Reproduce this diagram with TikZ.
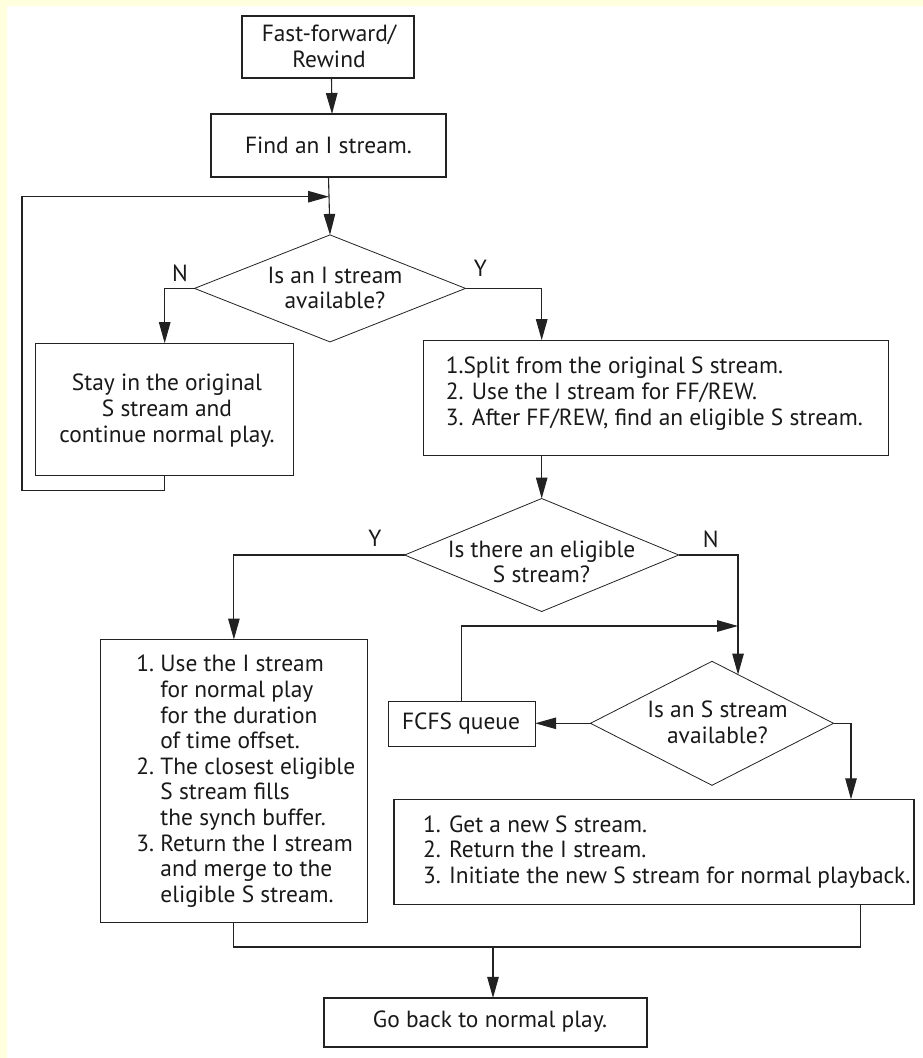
\documentclass[tikz,border=0pt]{standalone}
\usepackage{fontspec}
\setmainfont{PT Sans}
\usetikzlibrary{arrows.meta,shapes.geometric,calc}
\definecolor{paper}{RGB}{255,255,221}
\definecolor{ink}{RGB}{34,34,34}
\begin{document}
\begin{tikzpicture}[x=1pt,y=-1pt,
  every node/.style={font=\fontsize{23.4}{25.6}\selectfont, text=black!90,
    inner sep=0pt, outer sep=0pt},
  flowbox/.style={draw=ink, line width=1.2pt, rectangle},
  decide/.style={draw=ink, line width=0.8pt, diamond},
  ctext/.style={align=center},
  ltext/.style={align=left, anchor=west},
  conn/.style={draw=ink, line width=1.1pt},
  arr/.style={conn, -{Triangle[length=21pt,width=11.5pt]}},
]
% page and frame
\useasboundingbox (0,0) rectangle (923,1058);
\fill[paper] (0,0) rectangle (923,1058);
\fill[white] (7,6) rectangle (923,1058);

% process boxes
\node[flowbox, minimum width=172pt, minimum height=62pt] (b1) at (328,47) {};
\node[flowbox, minimum width=235pt, minimum height=63pt] (b2) at (328.5,145.5) {};
\node[flowbox, minimum width=258pt, minimum height=132pt] (stay) at (164.7,409.2) {};
\node[flowbox, minimum width=465pt, minimum height=115pt] (b3) at (656.3,397.7) {};
\node[flowbox, minimum width=267pt, minimum height=283pt] (b4) at (233.9,781) {};
\node[flowbox, minimum width=147pt, minimum height=45pt] (fcfs) at (461.7,724.1) {};
\node[flowbox, minimum width=520pt, minimum height=105pt] (b5) at (654,851.8) {};
\node[flowbox, minimum width=323pt, minimum height=49pt] (fin) at (485.5,1022.4) {};

% decisions
\node[decide, minimum width=271pt, minimum height=107pt] (d1) at (330,288.4) {};
\node[decide, minimum width=274pt, minimum height=113pt] (d2) at (541.7,555) {};
\node[decide, minimum width=243pt, minimum height=124pt] (d3) at (712,723.3) {};

% texts
\node[ctext] (b1t) at (329,46.3) {Fast-forward/\\Rewind};
\node[ctext] (b2t) at (328.5,145) {Find an I stream.};
\node[ctext] (d1t) at (335,288) {Is an I stream\\available?};
\node[ctext] (stayt) at (167,410.5) {Stay in the original\\S stream and\\continue normal play.};
\node[ltext] (b3t) at (445.8,393.7) {1.Split from the original S stream.\\2. Use the I stream for FF/REW.\\3. After FF/REW, find an eligible S stream.};
\node[ctext] (d2t) at (541.5,562) {Is there an eligible\\S stream?};
\node[ltext] (b4t) at (136.4,782) {\begin{tabular}{@{}l@{\ }l@{}}
1. & Use the I stream\\
   & for normal play\\
   & for the duration\\
   & of time offset.\\
2. & The closest eligible\\
   & S stream fills\\
   & the synch buffer.\\
3. & Return the I stream\\
   & and merge to the\\
   & eligible S stream.
\end{tabular}};
\node[ctext] (fcfst) at (461,723) {FCFS queue};
\node[ctext] (d3t) at (717.5,722) {Is an S stream\\available?};
\node[ltext] (b5t) at (423,852) {1. Get a new S stream.\\2. Return the I stream.\\3. Initiate the new S stream for normal playback.};
\node[ctext] (fint) at (490,1021.7) {Go back to normal play.};

% branch labels
\node (n1) at (180,273) {N};
\node (y1) at (480.4,268.3) {Y};
\node (y2) at (375,538.3) {Y};
\node (n2) at (710.7,539.3) {N};

% junction points
\coordinate (j1) at (329,196.7);
\coordinate (lp) at (22,490.7);
\coordinate (j2) at (738,626);
\coordinate (d3in) at ($(d3.north)!0.2143!(d3.east)$);
\coordinate (c5) at (851,0);
\coordinate (m) at (493,947);
\coordinate (mr) at (860.5,947);

% connectors
\draw[arr] ([xshift=3.5pt]b1.south) -- ([xshift=3.5pt]b2.north);
\draw[arr] (b2.south) -- (d1.north);
\draw[arr] (d1.west) -| (stay.north);
\draw[arr] (stay.south) |- (lp) |- (j1);
\draw[arr] (d1.east) -| (d2 |- b3.north);
\draw[arr] (d2 |- b3.south) -- (d2.north);
\draw[arr] (d2.west) -| (b4.north);
\draw[arr] (d2.east) -| (d3in);
\draw[arr] (d3.west) -- (d3.west -| fcfs.east);
\draw[arr] (fcfs.north) |- (j2);
\draw[arr] (d3.east) -| (c5 |- b5.north);
\draw[conn] (b4.south) |- (mr) -- (mr |- b5.south);
\draw[arr] (m) -- (m |- fin.north);
\end{tikzpicture}
\end{document}
